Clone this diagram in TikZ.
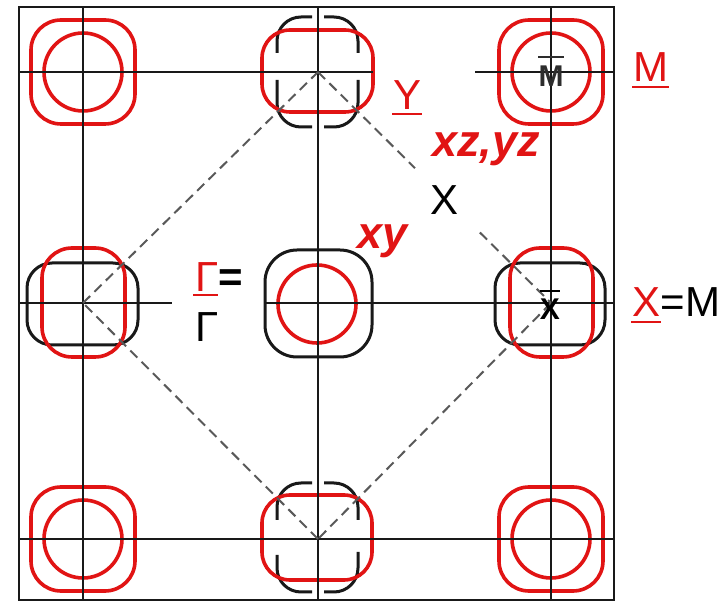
\documentclass[tikz,border=0pt]{standalone}
\usepackage{fontspec}
\setmainfont{Liberation Sans}
\usetikzlibrary{calc}
\definecolor{bzred}{RGB}{225,20,20}
\definecolor{mgray}{RGB}{45,45,45}
\begin{document}
\begin{tikzpicture}[x=1pt,y=-1pt,
  gridline/.style={line width=2.4pt,black!90},
  bzline/.style={line width=2pt,dash pattern=on 10pt off 6pt,black!65},
  redfs/.style={line width=3.6pt,bzred},
  blkfs/.style={line width=3pt,black!90},
  lab/.style={inner sep=0pt,anchor=base west,font=\fontsize{42}{48}\selectfont},
  orb/.style={inner sep=0pt,anchor=base west,font=\fontsize{45}{50}\selectfont\bfseries\itshape,bzred},
  small/.style={inner sep=0pt,anchor=base,font=\fontsize{30}{34}\selectfont\bfseries},
  uline/.style={bzred,line width=2.2pt}]
\useasboundingbox (0,0) rectangle (724,601);
\fill[white] (0,0) rectangle (724,601);
% lattice points
\coordinate (G) at (318,303);
\coordinate (Yt) at (318,72);
\coordinate (Yb) at (318,539);
\coordinate (Xl) at (83,303);
\coordinate (Xr) at (551,303);
\coordinate (M1) at (83,72);
\coordinate (M2) at (551,72);
\coordinate (M3) at (83,539);
\coordinate (M4) at (551,539);
% corner pockets
\foreach \c in {M1,M2,M3,M4}{
  \draw[redfs,rounded corners=30pt] ($(\c)+(-52,-52)$) rectangle ($(\c)+(52,52)$);
  \draw[redfs] (\c) circle (39pt);
}
% top-middle pocket
\draw[blkfs,rounded corners=24pt] (312,17) -| (277,53);
\draw[blkfs,rounded corners=24pt] (324,17) -| (358,53);
\draw[blkfs,rounded corners=24pt] (277,80) |- (312,127);
\draw[blkfs,rounded corners=24pt] (358,80) |- (324,127);
\draw[redfs,rounded corners=28pt] (262,30) rectangle (373,112);
% bottom-middle pocket
\draw[blkfs,rounded corners=24pt] (312,483) -| (277,520);
\draw[blkfs,rounded corners=24pt] (324,483) -| (358,520);
\draw[blkfs,rounded corners=24pt] (277,555) |- (312,592);
\draw[blkfs,rounded corners=24pt] (358,552) |- (324,592);
\draw[redfs,rounded corners=28pt] (262,495) rectangle (372,580);
% left-middle pocket
\draw[blkfs,rounded corners=25pt] (27,263) rectangle (138,345);
\draw[redfs,rounded corners=30pt] (42,248) rectangle (125,357);
% right-middle pocket
\draw[blkfs,rounded corners=25pt] (495,263) rectangle (605,345);
\draw[redfs,rounded corners=30pt] (510,248) rectangle (593,357);
% center pocket
\draw[blkfs,rounded corners=32pt] (265,250) rectangle (372,357);
\draw[redfs] (317,304) circle (39pt);
% frame and grid
\draw[gridline] (19,7) rectangle (614,600);
\draw[gridline] (83,7) -- (83,600);
\draw[gridline] (318,7) -- (318,600);
\draw[gridline] (551,7) -- (551,600);
\draw[gridline] (19,72) -- (373,72);
\draw[gridline] (475,72) -- (614,72);
\draw[gridline] (19,303) -- (172,303);
\draw[gridline] (265,303) -- (614,303);
\draw[gridline] (19,539) -- (614,539);
% dashed zone
\draw[bzline] (Yt) -- ($(Yt)!0.416!(Xr)$);
\draw[bzline] ($(Yt)!0.695!(Xr)$) -- (Xr);
\draw[bzline] (Xr) -- (Yb);
\draw[bzline] (Yb) -- (Xl);
\draw[bzline] (Xl) -- (Yt);
% small labels inside pockets
\node[small,mgray] (Mbar) at (551,87) {M};
\draw[mgray,line width=2pt] ($(Mbar.base west)+(0,-30)$) -- ($(Mbar.base east)+(0,-30)$);
\node[small,black] (Xbar) at (550,320) {X};
\draw[black,line width=2pt] ($(Xbar.base west)+(0,-29)$) -- ($(Xbar.base east)+(0,-29)$);
% labels
\node[lab,bzred] (lY) at (393,110) {Y};
\draw[uline] ($(lY.base west)+(-1,4)$) -- ($(lY.base east)+(1,4)$);
\node[lab,bzred] (lM) at (633,82) {M};
\draw[uline] ($(lM.base west)+(-1,5)$) -- ($(lM.base east)+(1,5)$);
\node[orb] (lxz) at (432,157) {xz,yz};
\node[lab] (lX) at (430,215) {X};
\node[orb] (lxy) at (357,249) {xy};
\node[lab,bzred] (lG1) at (195,292) {Γ};
\draw[uline] ($(lG1.base west)+(-2,3)$) -- ($(lG1.base east)+(-1,3)$);
\node[lab,font=\fontsize{42}{48}\selectfont\bfseries] (lEq) at (lG1.base east) {=};
\node[lab] (lG2) at (195,342) {Γ};
\node[lab,bzred] (lXr) at (632,317) {X};
\draw[uline] ($(lXr.base west)+(-1,5)$) -- ($(lXr.base east)+(1,5)$);
\node[lab] (lEqM) at (lXr.base east) {=M};
\end{tikzpicture}
\end{document}
